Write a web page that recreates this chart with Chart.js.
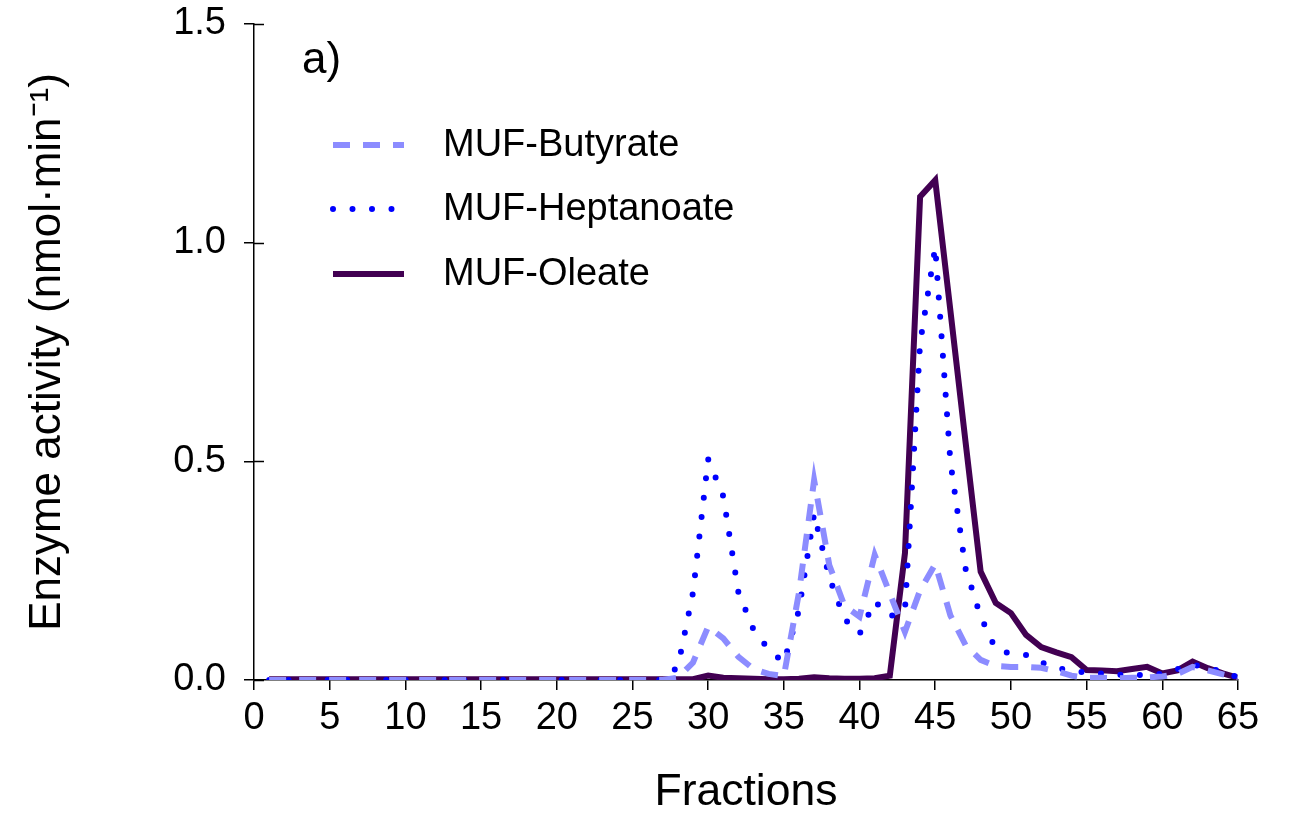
<!DOCTYPE html>
<html>
<head>
<meta charset="utf-8">
<script src="https://cdn.jsdelivr.net/npm/chart.js@4/dist/chart.umd.min.js"></script>
<style>
  html, body { margin: 0; padding: 0; background: #fff; }
  #wrap { width: 1289px; height: 813px; }
</style>
</head>
<body>
<div id="wrap"><canvas id="myChart" width="1289" height="813"></canvas></div>
<script>
// fraction numbers (x axis)
const fractions = [1, 2, 3, 4, 5, 6, 7, 8, 9, 10, 11, 12, 13, 14, 15, 16, 17, 18, 19, 20,
    21, 22, 23, 24, 25, 26, 27, 28, 29, 30, 31, 32, 33, 34, 35, 36, 37, 38, 39, 40,
    41, 42, 43, 44, 45, 46, 47, 48, 49, 50, 51, 52, 53, 54, 55, 56, 57, 58, 59, 60,
    61, 62, 63, 64, 65];

// enzyme activity, nmol/min
const butyrate = [0, 0, 0, 0, 0, 0, 0, 0, 0, 0, 0, 0, 0, 0, 0, 0, 0, 0, 0, 0,
    0, 0, 0, 0, 0, 0, 0, 0.005, 0.04, 0.122, 0.095, 0.053, 0.025, 0.014, 0.009, 0.2, 0.457, 0.263, 0.17, 0.145,
    0.286, 0.198, 0.11, 0.205, 0.265, 0.148, 0.08, 0.046, 0.032, 0.03, 0.03, 0.028, 0.02, 0.01, 0.005, 0.005, 0.004, 0.005, 0.006, 0.008,
    0.014, 0.03, 0.022, 0.013, 0.005];

const heptanoate = [0, 0, 0, 0, 0, 0, 0, 0, 0, 0, 0, 0, 0, 0, 0, 0, 0, 0, 0, 0,
    0, 0, 0, 0, 0, 0, 0, 0.03, 0.2, 0.505, 0.42, 0.2, 0.115, 0.07, 0.04, 0.16, 0.38, 0.235, 0.14, 0.105,
    0.18, 0.145, 0.16, 0.77, 0.99, 0.5, 0.255, 0.145, 0.07, 0.06, 0.057, 0.04, 0.028, 0.02, 0.017, 0.015, 0.012, 0.011, 0.012, 0.014,
    0.025, 0.035, 0.028, 0.018, 0.006];

const oleate = [0.002, 0.002, 0.002, 0.002, 0.002, 0.002, 0.002, 0.002, 0.002, 0.002, 0.002, 0.002, 0.002, 0.002, 0.002, 0.002, 0.002, 0.002, 0.002, 0.002,
    0.002, 0.002, 0.002, 0.002, 0.002, 0.002, 0.002, 0.002, 0.002, 0.01, 0.005, 0.004, 0.003, 0.002, 0.002, 0.003, 0.006, 0.004, 0.003, 0.003,
    0.004, 0.01, 0.29, 1.105, 1.143, 0.845, 0.545, 0.248, 0.176, 0.153, 0.103, 0.075, 0.063, 0.052, 0.023, 0.022, 0.02, 0.025, 0.03, 0.015,
    0.022, 0.042, 0.027, 0.015, 0.005];

const seriesNames = ['MUF-Butyrate', 'MUF-Heptanoate', 'MUF-Oleate'];
const yTicks = [0, 0.5, 1.0, 1.5];

const FONT = 'Arial, "Liberation Sans", sans-serif';

function toPoints(vals) {
    return fractions.map((f, i) => ({ x: f, y: vals[i] }));
}

// legend + panel letter + inner half of the y ticks
const extras = {
    id: 'extras',
    afterDraw(chart) {
        const ctx = chart.ctx;
        const area = chart.chartArea;
        const yScale = chart.scales.y;
        ctx.save();
        // y ticks cross the axis
        ctx.strokeStyle = '#000';
        ctx.lineWidth = 1.5;
        yTicks.forEach(v => {
            const py = Math.round(yScale.getPixelForValue(v)) + 0.5;
            ctx.beginPath();
            ctx.moveTo(area.left, py);
            ctx.lineTo(area.left + 10, py);
            ctx.stroke();
        });

        ctx.fillStyle = '#000';
        ctx.font = '44px ' + FONT;
        ctx.textBaseline = 'alphabetic';
        ctx.fillText('a)', 302, 73);

        const rows = [145, 209, 274];
        chart.data.datasets.forEach((ds, i) => {
            const y = rows[i];
            ctx.beginPath();
            ctx.strokeStyle = ds.borderColor;
            ctx.lineWidth = ds.borderWidth;
            ctx.lineCap = ds.borderCapStyle || 'butt';
            ctx.setLineDash(ds.borderDash || []);
            ctx.moveTo(333, y);
            ctx.lineTo(404, y);
            ctx.stroke();
            ctx.setLineDash([]);
            ctx.fillStyle = '#000';
            ctx.font = '38px ' + FONT;
            ctx.textBaseline = 'middle';
            ctx.fillText(ds.label, 443, y + 1);
        });
        ctx.restore();
    }
};

document.addEventListener('DOMContentLoaded', () => {
    const ctx = document.getElementById('myChart').getContext('2d');
    const myChart = new Chart(ctx, {
        type: 'line',
        data: {
            datasets: [{
                label: seriesNames[0],
                data: toPoints(butyrate),
                borderColor: '#8c8cff',
                borderWidth: 6,
                borderDash: [17, 13],
                borderCapStyle: 'butt',
                pointRadius: 0,
                tension: 0
            }, {
                label: seriesNames[1],
                data: toPoints(heptanoate),
                borderColor: '#0000ff',
                borderWidth: 6,
                borderDash: [0, 19.5],
                borderCapStyle: 'round',
                pointRadius: 0,
                tension: 0
            }, {
                label: seriesNames[2],
                data: toPoints(oleate),
                borderColor: '#420052',
                borderWidth: 6,
                borderCapStyle: 'butt',
                pointRadius: 0,
                tension: 0
            }]
        },
        options: {
            responsive: false,
            animation: false,
            layout: { padding: { top: 24, right: 51, left: 0, bottom: 0 } },
            scales: {
                x: {
                    type: 'linear',
                    min: 0,
                    max: 65,
                    afterFit: s => { s.height = 133; },
                    ticks: {
                        stepSize: 5,
                        color: 'black',
                        padding: 6,
                        font: { size: 38, family: FONT }
                    },
                    grid: { display: true, drawOnChartArea: false, color: '#000', lineWidth: 1.5, tickLength: 10 },
                    border: { display: true, color: '#000', width: 1.5 },
                    title: {
                        display: true,
                        text: 'Fractions',
                        color: 'black',
                        padding: 0,
                        font: { size: 44.5, family: FONT, lineHeight: 0.93 }
                    }
                },
                y: {
                    min: 0,
                    max: 1.5,
                    afterFit: s => { s.width = 254; s.paddingTop = 0; },
                    afterBuildTicks: s => { s.ticks = yTicks.map(v => ({ value: v })); },
                    ticks: {
                        color: 'black',
                        padding: 18,
                        font: { size: 38, family: FONT },
                        callback: v => v.toFixed(1)
                    },
                    grid: { display: true, drawOnChartArea: false, color: '#000', lineWidth: 1.5, tickLength: 10 },
                    border: { display: true, color: '#000', width: 1.5 },
                    title: {
                        display: true,
                        text: 'Enzyme activity (nmol·min⁻¹)',
                        color: 'black',
                        padding: { top: 21, bottom: 0 },
                        font: { size: 44, family: FONT }
                    }
                }
            },
            plugins: {
                legend: { display: false },
                tooltip: { enabled: false }
            }
        },
        plugins: [extras]
    });
});
</script>
</body>
</html>
